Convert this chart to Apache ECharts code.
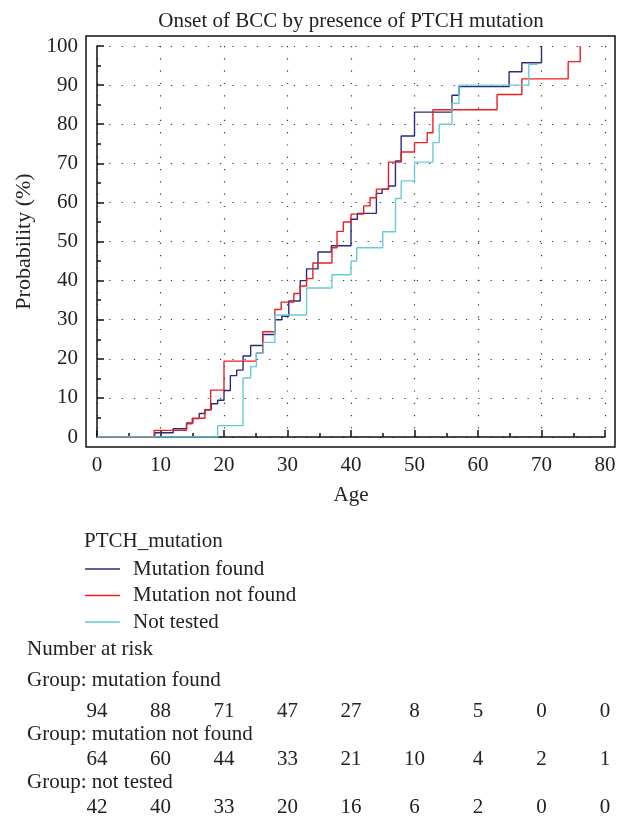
<!DOCTYPE html>
<html>
<head>
<meta charset="utf-8">
<script src="https://cdn.jsdelivr.net/npm/echarts@6/dist/echarts.min.js"></script>
<style>
  html, body { margin: 0; padding: 0; background: #fff; }
  #chart { width: 624px; height: 820px; }
</style>
</head>
<body>
<div id="chart"></div>
<script>
// step curves: age at which the cumulative probability jumps, and the new value (%)
const foundAge  = [0, 9.1, 12, 14.1, 15.1, 16.1, 17, 18, 19, 20, 21, 22, 23, 24.2, 26.1, 28, 29.1, 30.2, 32, 33, 34.8, 36.9, 40, 41, 44, 44.9, 45.9, 47, 47.9, 50, 55.9, 57, 64.9, 66.9, 70];
const foundProb = [0, 1.1, 2.1, 3.6, 4.7, 6.0, 7.0, 8.5, 9.4, 11.9, 15.7, 17.1, 20.7, 23.4, 26.2, 30.0, 30.9, 34.8, 40.0, 43.0, 47.3, 48.9, 55.7, 57.2, 62.3, 63.4, 64.2, 70.6, 77.0, 83.1, 87.4, 89.6, 93.4, 95.7, 100];

const notFoundAge  = [0, 9, 14.1, 15, 17, 17.9, 20, 25.1, 26.1, 28, 29, 31, 32, 33, 34, 37, 37.8, 38.8, 40, 42, 43, 44, 45.9, 47.9, 50, 52, 52.9, 63, 66.9, 74.2, 76.1];
const notFoundProb = [0, 1.7, 3.4, 4.8, 6.9, 12.0, 19.4, 21.5, 26.9, 32.6, 34.5, 36.7, 38.6, 40.5, 44.5, 48.4, 52.6, 55.0, 57.0, 59.1, 61.2, 63.4, 70.3, 72.9, 75.3, 77.8, 83.7, 87.6, 91.6, 96.0, 100];

const notTestedAge  = [0, 19, 23, 24.2, 25.1, 26.2, 28, 33, 37, 40, 40.9, 45, 47, 47.9, 50, 52.9, 53.9, 55.9, 57, 68, 69.4];
const notTestedProb = [0, 2.9, 15.1, 18.0, 21.5, 24.2, 31.2, 38.1, 41.5, 45.0, 48.4, 52.5, 61.0, 65.5, 70.3, 75.3, 80.0, 85.3, 90.0, 95.3, 95.3];

const seriesNames = ["Mutation found", "Mutation not found", "Not tested"];

// number at risk, at ages 0, 10, ..., 80
const riskAges = [0, 10, 20, 30, 40, 50, 60, 70, 80];
const riskFound     = [94, 88, 71, 47, 27, 8, 5, 0, 0];
const riskNotFound  = [64, 60, 44, 33, 21, 10, 4, 2, 1];
const riskNotTested = [42, 40, 33, 20, 16, 6, 2, 0, 0];

const FONT = "Liberation Serif";
const FS = 21;
const TXT = "#222";

const chart = echarts.init(document.getElementById("chart"));

const pairs = (xs, ys) => xs.map((x, i) => [x, ys[i]]);

// invisible axes used only to line the at-risk counts up with the age ticks
const riskAxis = (values, offset) => ({
  type: "value",
  gridIndex: 0,
  position: "bottom",
  min: 0,
  max: 80,
  interval: 10,
  offset: offset,
  axisLine: { show: false },
  axisTick: { show: false },
  splitLine: { show: false },
  axisLabel: {
    margin: 0,
    fontFamily: FONT,
    fontSize: FS,
    lineHeight: 20,
    color: TXT,
    formatter: (v) => String(values[riskAges.indexOf(v)])
  }
});

const option = {
  animation: false,
  title: {
    text: "Onset of BCC by presence of PTCH mutation",
    left: 346,
    top: 6,
    textAlign: "center",
    textStyle: { fontFamily: FONT, fontSize: FS, fontWeight: "normal", color: TXT }
  },
  grid: { left: 97, top: 46, width: 508, height: 391 },
  legend: {
    orient: "vertical",
    left: 85,
    top: 558.5,
    padding: 0,
    icon: "rect",
    itemWidth: 35,
    itemHeight: 1.5,
    itemGap: 5.5,
    data: seriesNames,
    textStyle: { fontFamily: FONT, fontSize: FS, lineHeight: 21, color: TXT, padding: [0, 0, 0, 8] }
  },
  xAxis: [
    {
      type: "value",
      min: 0,
      max: 80,
      interval: 10,
      offset: 10,
      name: "Age",
      nameLocation: "middle",
      nameGap: 38,
      nameTextStyle: { fontFamily: FONT, fontSize: FS, color: TXT },
      axisLine: { lineStyle: { color: "#111", width: 1.5 } },
      axisTick: { inside: true, length: 7, lineStyle: { color: "#111", width: 1.5 } },
      minorTick: { show: true, splitNumber: 2, length: 4, lineStyle: { color: "#111", width: 1.5 } },
      axisLabel: { margin: 8, fontFamily: FONT, fontSize: FS, color: TXT },
      splitLine: { show: true, lineStyle: { color: "#333", width: 1.2, type: [1.2, 11.1] } }
    },
    riskAxis(riskFound, 264.7),
    riskAxis(riskNotFound, 312.7),
    riskAxis(riskNotTested, 360.7)
  ],
  yAxis: {
    type: "value",
    min: 0,
    max: 100,
    interval: 10,
    offset: 11,
    name: "Probability (%)",
    nameLocation: "middle",
    nameGap: 50,
    nameTextStyle: { fontFamily: FONT, fontSize: 22, color: TXT },
    axisLine: { lineStyle: { color: "#111", width: 1.5 } },
    axisTick: { inside: true, length: 7, lineStyle: { color: "#111", width: 1.5 } },
    minorTick: { show: true, splitNumber: 2, length: 4, lineStyle: { color: "#111", width: 1.5 } },
    axisLabel: { margin: 8, fontFamily: FONT, fontSize: FS, color: TXT },
    splitLine: { show: true, lineStyle: { color: "#333", width: 1.2, type: [1.2, 11.1] } }
  },
  series: [
    {
      name: seriesNames[0], type: "line", step: "end", symbol: "none",
      data: pairs(foundAge, foundProb),
      lineStyle: { color: "#2a2c78", width: 1.4 }, itemStyle: { color: "#2a2c78" }
    },
    {
      name: seriesNames[1], type: "line", step: "end", symbol: "none",
      data: pairs(notFoundAge, notFoundProb),
      lineStyle: { color: "#ee1d25", width: 1.4 }, itemStyle: { color: "#ee1d25" }
    },
    {
      name: seriesNames[2], type: "line", step: "end", symbol: "none",
      data: pairs(notTestedAge, notTestedProb),
      lineStyle: { color: "#66cbd9", width: 1.4 }, itemStyle: { color: "#66cbd9" }
    }
  ],
  graphic: [
    { type: "rect", shape: { x: 86, y: 36, width: 529, height: 411 }, style: { fill: "none", stroke: "#111", lineWidth: 1.5 }, silent: true },
    { type: "text", left: 84, top: 531, style: { text: "PTCH_mutation", font: FS + "px " + FONT, fill: TXT } },
    { type: "text", left: 27, top: 639, style: { text: "Number at risk", font: FS + "px " + FONT, fill: TXT } },
    { type: "text", left: 27, top: 670, style: { text: "Group: mutation found", font: FS + "px " + FONT, fill: TXT } },
    { type: "text", left: 27, top: 724, style: { text: "Group: mutation not found", font: FS + "px " + FONT, fill: TXT } },
    { type: "text", left: 27, top: 772, style: { text: "Group: not tested", font: FS + "px " + FONT, fill: TXT } }
  ]
};

chart.setOption(option);
</script>
</body>
</html>
